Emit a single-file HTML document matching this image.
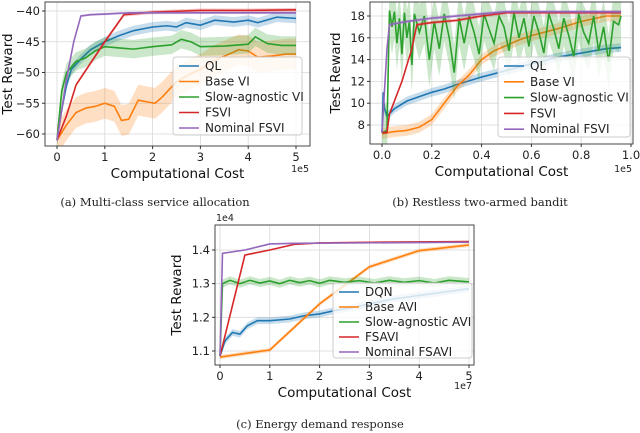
<!DOCTYPE html>
<html><head><meta charset="utf-8">
<style>
body{margin:0;background:#fff;}
svg{display:block;font-family:"DejaVu Sans","Liberation Sans",sans-serif;}
.cap{font-family:"DejaVu Serif","Liberation Serif",serif;font-size:11.5px;fill:#222;}
</style></head><body>
<svg id="c" width="640" height="433" viewBox="0 0 640 433"></svg>
<script>
// ---- Panel A data (x in 1e5) ----
const aQL=[[0,-61],[0.1,-56],[0.2,-52],[0.3,-49.5],[0.5,-47.8],[0.7,-46.3],[1,-45],[1.3,-44],[1.6,-43.2],[2,-42.6],[2.3,-42.4],[2.5,-42.6],[2.7,-41.9],[3,-42.3],[3.3,-41.5],[3.7,-41.8],[4,-41.5],[4.2,-41.9],[4.6,-41],[5,-41.2]];
const aBase=[[0,-61],[0.2,-58.5],[0.4,-56.5],[0.6,-55.8],[0.8,-55.5],[1,-55],[1.2,-55.5],[1.35,-57.8],[1.5,-57.6],[1.7,-54.5],[1.9,-54.8],[2.05,-55],[2.2,-54],[2.5,-51.5],[2.8,-50.2],[3,-49.5],[3.3,-48],[3.6,-47],[3.8,-46.3],[4,-46.5],[4.2,-47.5],[4.5,-47.3],[4.8,-47],[5,-47]];
const aSlow=[[0,-61],[0.1,-53],[0.2,-50],[0.4,-48.2],[0.6,-47.6],[0.8,-46.5],[1,-45.8],[1.3,-46],[1.6,-46.2],[2,-45.8],[2.4,-45.5],[2.6,-44.6],[2.8,-45],[3,-45.8],[3.5,-45.7],[4,-45.4],[4.15,-44.2],[4.4,-45.3],[4.7,-45.6],[5,-45.6]];
const aFSVI=[[0,-61],[0.2,-57],[0.4,-52],[0.7,-48.5],[1,-45],[1.4,-40.6],[2,-40.2],[3,-39.9],[4,-39.9],[5,-39.8]];
const aNom=[[0,-61],[0.2,-51],[0.35,-45],[0.5,-40.8],[0.7,-40.6],[1,-40.5],[1.5,-40.3],[3,-40.3],[5,-40.3]];
const aSpread=[0.8,2.5,1.5,0.3,0.2];
const aXTicks=[0,1,2,3,4,5];
const aYTicks=[-60,-55,-50,-45,-40];
const aLegend=["QL","Base VI","Slow-agnostic VI","FSVI","Nominal FSVI"];
// ---- Panel B data (x in 1e5) ----
const bQL=[[0,7.3],[0.005,11],[0.01,9.5],[0.02,8.8],[0.05,9.5],[0.1,10.2],[0.15,10.6],[0.2,11],[0.25,11.3],[0.3,11.7],[0.4,12.4],[0.5,13],[0.6,13.6],[0.7,14.2],[0.8,14.6],[0.9,15],[0.96,15.1]];
const bBase=[[0,7.2],[0.05,7.4],[0.1,7.5],[0.15,7.8],[0.2,8.5],[0.25,10],[0.3,11.5],[0.35,12.6],[0.4,14],[0.45,14.8],[0.5,15.3],[0.55,15.8],[0.6,16.2],[0.7,16.8],[0.8,17.5],[0.9,18],[0.96,18]];
const bSlow=[[0,7.3],[0.02,7.5],[0.03,18.5],[0.04,17],[0.05,18.4],[0.06,15.5],[0.07,17.8],[0.08,14.5],[0.09,18.3],[0.1,16],[0.11,17.5],[0.12,13.5],[0.13,18.2],[0.15,16.5],[0.17,18],[0.19,14],[0.21,17.5],[0.23,15],[0.25,18.2],[0.27,16],[0.29,12.8],[0.31,17.8],[0.33,15.5],[0.35,18],[0.37,16.5],[0.39,14.5],[0.41,18.2],[0.43,16.8],[0.45,15.5],[0.47,18],[0.49,17],[0.51,14.8],[0.53,18.3],[0.55,16],[0.57,17.8],[0.59,15.2],[0.61,18],[0.63,16.5],[0.65,14.6],[0.67,18.2],[0.69,16.8],[0.71,15],[0.73,17.8],[0.75,16.2],[0.77,14.3],[0.79,18.2],[0.81,16.5],[0.83,15.5],[0.85,18],[0.87,14.8],[0.89,17],[0.91,13.8],[0.93,17.5],[0.95,17.2],[0.96,18]];
const bFSVI=[[0,7.3],[0.02,7.3],[0.03,9],[0.08,12],[0.12,15],[0.14,17.2],[0.2,17.4],[0.3,17.6],[0.4,18],[0.5,18.3],[0.96,18.3]];
const bNom=[[0,7.3],[0.02,15],[0.03,17.2],[0.1,17.5],[0.2,17.8],[0.4,18.2],[0.5,18.4],[0.96,18.4]];
const bSpread=[0.4,0.5,2.5,0.15,0.15];
const bXTicks=[0,0.2,0.4,0.6,0.8,1.0];
const bYTicks=[8,10,12,14,16,18];
const bLegend=["QL","Base VI","Slow-agnostic VI","FSVI","Nominal FSVI"];
// ---- Panel C data (x in 1e7, y in 1e4) ----
const cDQN=[[0,1.085],[0.1,1.13],[0.25,1.155],[0.4,1.15],[0.55,1.175],[0.75,1.19],[1,1.19],[1.4,1.195],[1.7,1.205],[2,1.21],[2.3,1.22],[2.7,1.23],[3,1.24],[3.5,1.255],[4,1.265],[4.5,1.275],[5,1.285]];
const cBase=[[0,1.082],[1,1.103],[2,1.24],[3,1.35],[4,1.398],[5,1.415]];
const cSlow=[[0,1.085],[0.05,1.3],[0.2,1.31],[0.4,1.3],[0.6,1.31],[0.8,1.302],[1,1.308],[1.2,1.3],[1.4,1.31],[1.6,1.303],[1.8,1.309],[2,1.301],[2.2,1.31],[2.5,1.304],[2.8,1.309],[3.1,1.302],[3.4,1.31],[3.7,1.304],[4,1.309],[4.3,1.302],[4.6,1.31],[5,1.305]];
const cFSAVI=[[0,1.085],[0.5,1.385],[1,1.40],[1.5,1.417],[2,1.421],[3,1.423],[5,1.425]];
const cNom=[[0,1.085],[0.05,1.39],[0.5,1.40],[1,1.418],[1.5,1.42],[5,1.423]];
const cSpread=[0.01,0.006,0.012,0.002,0.002];
const cXTicks=[0,1,2,3,4,5];
const cYTicks=[1.1,1.2,1.3,1.4];
const cLegend=["DQN","Base AVI","Slow-agnostic AVI","FSAVI","Nominal FSAVI"];

const COLORS=["#1f77b4","#ff7f0e","#2ca02c","#d62728","#9467bd"];
const NS="http://www.w3.org/2000/svg";
const svg=document.getElementById('c');
function mk(tag,attrs,parent){const e=document.createElementNS(NS,tag);for(const k in attrs)e.setAttribute(k,attrs[k]);(parent||svg).appendChild(e);return e;}

function panel(cfg){
  const g=mk('g',{});
  
  
  const sx=v=>cfg.x0+(v-cfg.xa)/(cfg.xb-cfg.xa)*(cfg.x1-cfg.x0);
  const sy=v=>cfg.y0+(v-cfg.ya)/(cfg.yb-cfg.ya)*(cfg.y1-cfg.y0);
  cfg.xt.forEach(t=>{mk('line',{x1:sx(t),x2:sx(t),y1:cfg.bt,y2:cfg.bb,stroke:'#d8d8d8','stroke-width':0.8},g);
    const tx=mk('text',{x:sx(t),y:cfg.bb+15,'text-anchor':'middle','font-size':11.5,fill:'#222'},g);tx.textContent=cfg.xfmt(t);
    
    mk('line',{x1:sx(t),x2:sx(t),y1:cfg.bb,y2:cfg.bb+3,stroke:'#333'},g);});
  cfg.yt.forEach(t=>{mk('line',{x1:cfg.bl,x2:cfg.br,y1:sy(t),y2:sy(t),stroke:'#d8d8d8','stroke-width':0.8},g);
    const tx=mk('text',{x:cfg.bl-5,y:sy(t)+4,'text-anchor':'end','font-size':11.5,fill:'#222'},g);tx.textContent=cfg.yfmt(t);
    
    mk('line',{x1:cfg.bl-3,x2:cfg.bl,y1:sy(t),y2:sy(t),stroke:'#333'},g);});
  const clip='clip'+cfg.name;
  const cp=mk('clipPath',{id:clip},g);mk('rect',{x:cfg.bl,y:cfg.bt,width:cfg.br-cfg.bl,height:cfg.bb-cfg.bt},cp);
  const pg=mk('g',{'clip-path':'url(#'+clip+')'},g);
  cfg.series.forEach((s,i)=>{
    const sp=cfg.spread[i];
    const up=s.map(p=>sx(p[0])+','+sy(p[1]+sp)).join(' ');
    const dn=s.slice().reverse().map(p=>sx(p[0])+','+sy(p[1]-sp)).join(' ');
    const band=mk('polygon',{points:up+' '+dn,fill:COLORS[i],'fill-opacity':0.25,stroke:'none'},pg);
    
    
    const ln=mk('polyline',{points:s.map(p=>sx(p[0])+','+sy(p[1])).join(' '),fill:'none',stroke:COLORS[i],'stroke-width':1.6},pg);
    
    
  });
  mk('rect',{x:cfg.bl,y:cfg.bt,width:cfg.br-cfg.bl,height:cfg.bb-cfg.bt,fill:'none',stroke:'#333','stroke-width':0.9},g);
  const L=cfg.leg;
  const lg=mk('g',{},g);
  
  mk('rect',{x:L.x,y:L.y,width:L.w,height:L.h,rx:3,fill:'#fff','fill-opacity':0.8,stroke:'#ccc'},lg);
  cfg.legend.forEach((n,i)=>{const yy=L.y+9+i*L.step;
    mk('line',{x1:L.x+6,x2:L.x+26,y1:yy,y2:yy,stroke:COLORS[i],'stroke-width':1.6},lg);
    const t=mk('text',{x:L.x+32,y:yy+4,'font-size':12,fill:'#222'},lg);t.textContent=n;
    });
  const xl=mk('text',{x:(cfg.bl+cfg.br)/2,y:cfg.bb+32,'text-anchor':'middle','font-size':13.5,fill:'#111'},g);xl.textContent='Computational Cost';
  
  const yx=cfg.ylx, yy=(cfg.bt+cfg.bb)/2;
  const yl=mk('text',{x:yx,y:yy,'text-anchor':'middle','font-size':13.5,fill:'#111',transform:'rotate(-90 '+yx+' '+yy+')'},g);yl.textContent='Test Reward';
  
  if(cfg.off){const o=mk('text',{x:cfg.off[0],y:cfg.off[1],'text-anchor':'end','font-size':9.5,fill:'#222'},g);o.textContent=cfg.off[2];
    }
  const c=mk('text',{x:cfg.cap[0],y:cfg.cap[1],'text-anchor':'middle',class:'cap'},g);c.textContent=cfg.cap[2];
  
}

panel({name:'panel-a',bl:45,br:310,bt:2,bb:146,x0:57,x1:296,xa:0,xb:5,y0:11,y1:134,ya:-40,yb:-60,
  xt:aXTicks,yt:aYTicks,xfmt:t=>String(t),yfmt:t=>String(t).replace('-','\u2212'),
  series:[aQL,aBase,aSlow,aFSVI,aNom],spread:aSpread,legend:aLegend,
  leg:{x:173,y:57,w:129,h:78,step:15.5},ylx:12,off:[309,172,'1e5'],cap:[155,206,'(a) Multi-class service allocation']});
panel({name:'panel-b',bl:370,br:633,bt:2,bb:144,x0:382,x1:631,xa:0,xb:1,y0:16,y1:125,ya:18,yb:8,
  xt:bXTicks,yt:bYTicks,xfmt:t=>t.toFixed(1),yfmt:t=>String(t),
  series:[bQL,bBase,bSlow,bFSVI,bNom],spread:bSpread,legend:bLegend,
  leg:{x:498,y:57,w:132,h:80,step:15.8},ylx:340,off:[632,172,'1e5'],cap:[480,206,'(b) Restless two-armed bandit']});
panel({name:'panel-c',bl:215,br:474,bt:225,bb:365,x0:220,x1:469,xa:0,xb:5,y0:250,y1:351,ya:1.4,yb:1.1,
  xt:cXTicks,yt:cYTicks,xfmt:t=>String(t),yfmt:t=>t.toFixed(1),
  series:[cDQN,cBase,cSlow,cFSAVI,cNom],spread:cSpread,legend:cLegend,
  leg:{x:333,y:283,w:139,h:75,step:15},ylx:181,off:[472,389,'1e7'],cap:[320,428,'(c) Energy demand response']});
const e4=mk('text',{x:216,y:221,'font-size':9.5,fill:'#222'});e4.textContent='1e4';


</script>
</body></html>
